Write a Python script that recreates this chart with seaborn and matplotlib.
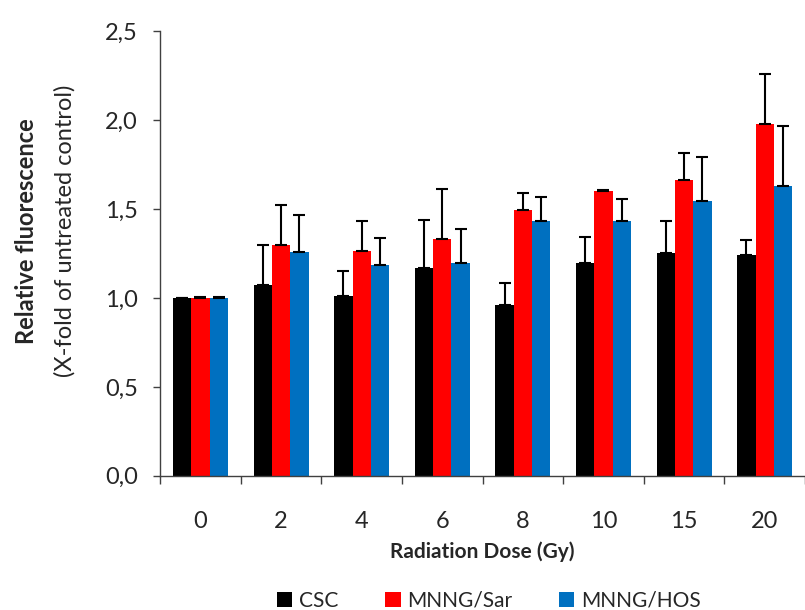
import numpy as np
import pandas as pd
import matplotlib
matplotlib.use('Agg')
from matplotlib import pyplot as plt
from matplotlib.ticker import FuncFormatter, FixedLocator
import seaborn as sns

doses = ['0', '2', '4', '6', '8', '10', '15', '20']
groups = ['CSC', 'MNNG/Sar', 'MNNG/HOS']
csc = [1.00, 1.07, 1.01, 1.17, 0.96, 1.195, 1.25, 1.24]
csc_err = [0.0, 0.225, 0.14, 0.27, 0.125, 0.15, 0.185, 0.085]
sar = [1.00, 1.295, 1.265, 1.33, 1.495, 1.60, 1.665, 1.975]
sar_err = [0.004, 0.23, 0.17, 0.28, 0.095, 0.005, 0.15, 0.285]
hos = [1.00, 1.26, 1.185, 1.195, 1.43, 1.43, 1.545, 1.63]
hos_err = [0.004, 0.205, 0.15, 0.195, 0.135, 0.125, 0.25, 0.335]
colors = ['#000000', '#FF0000', '#0070C0']

df = pd.DataFrame({
    'dose': doses * 3,
    'group': [g for g in groups for _ in doses],
    'value': csc + sar + hos,
})
errs = [csc_err, sar_err, hos_err]

sns.set_style('white')
plt.rcParams['font.family'] = ['Lato', 'DejaVu Sans']

fig = plt.figure(figsize=(8.05, 6.1), dpi=100)
ax = fig.add_axes([0.199, 0.22, 0.801, 0.729])

sns.barplot(data=df, x='dose', y='value', hue='group', order=doses,
            hue_order=groups, palette=colors, width=0.68, gap=0,
            linewidth=0, saturation=1, errorbar=None, ax=ax, legend=True)

# upward-only error bars on the bars seaborn drew
for cont, err in zip(ax.containers, errs):
    xs = [p.get_x() + p.get_width() / 2 for p in cont.patches]
    ys = [p.get_height() for p in cont.patches]
    ax.errorbar(xs, ys, yerr=[np.zeros(len(err)), err], fmt='none',
                ecolor='black', elinewidth=1.5, capsize=4.5, capthick=1.5,
                zorder=3)

ax.set_ylim(0, 2.5)
ax.set_xlim(-0.5, 7.5)
ax.set_yticks(np.arange(0, 2.51, 0.5))
ax.yaxis.set_major_formatter(FuncFormatter(lambda v, p: f'{v:.1f}'.replace('.', ',')))
ax.tick_params(axis='y', which='major', left=True, length=5, width=1,
               color='#404040', labelsize=17, pad=11)
ax.tick_params(axis='x', which='major', bottom=False, length=0,
               labelsize=17, pad=25)
ax.xaxis.set_minor_locator(FixedLocator(np.arange(-0.5, 7.6, 1)))
ax.tick_params(axis='x', which='minor', bottom=True, length=6, width=1,
               color='#404040')

for s in ['top', 'right']:
    ax.spines[s].set_visible(False)
for s in ['left', 'bottom']:
    ax.spines[s].set_color('#404040')
    ax.spines[s].set_linewidth(1)

ax.set_xlabel('Radiation Dose (Gy)', fontsize=15, fontweight='bold', labelpad=7)
ax.set_ylabel('')
fig.text(0.033, 0.621, 'Relative fluorescence', rotation=90, fontsize=17,
         fontweight='bold', ha='center', va='center')
fig.text(0.081, 0.621, '(X-fold of untreated control)', rotation=90,
         fontsize=17, ha='center', va='center')

handles, labels = ax.get_legend_handles_labels()
ax.legend_.remove()
fig.legend(handles, labels, loc='center', bbox_to_anchor=(0.607, 0.015),
           ncol=3, frameon=False, fontsize=15, handlelength=0.75,
           handleheight=0.75, handletextpad=0.3, columnspacing=2.25)

fig.savefig('out.png', dpi=100)
